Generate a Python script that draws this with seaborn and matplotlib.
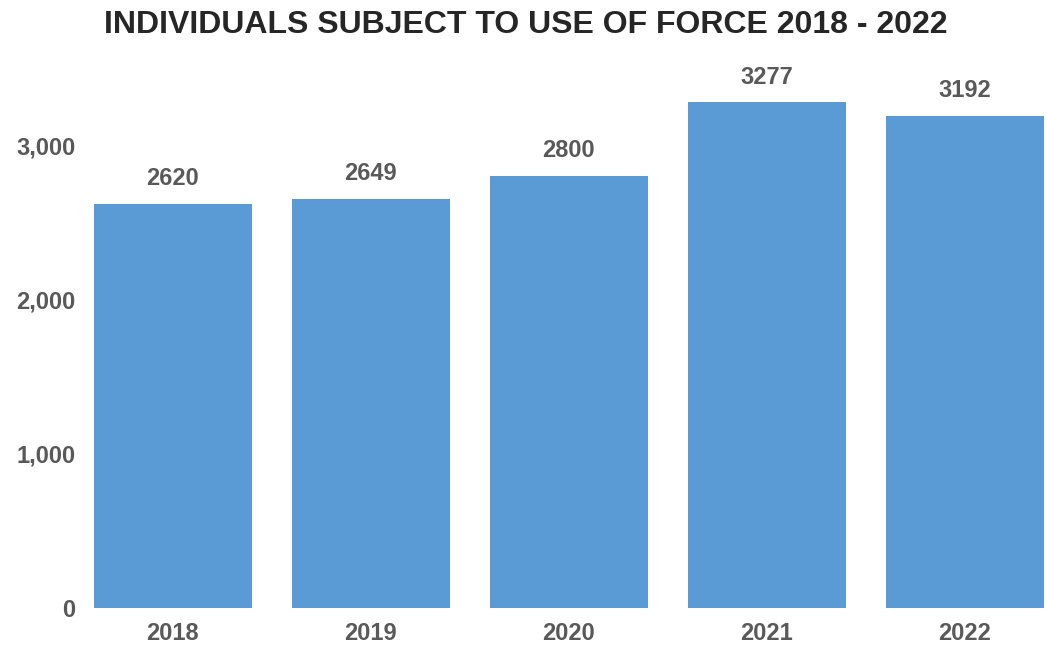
import pandas as pd
import matplotlib.pyplot as plt
import seaborn as sns
from matplotlib.ticker import FuncFormatter

years = ["2018", "2019", "2020", "2021", "2022"]
counts = [2620, 2649, 2800, 3277, 3192]

data = pd.DataFrame({"Year": years, "Count": counts})

sns.set_style("white")
plt.rcParams["font.family"] = ["Liberation Sans", "DejaVu Sans"]

fig = plt.figure(figsize=(10.46, 6.46), dpi=100)
ax = fig.add_axes([85 / 1046, 1 - 608 / 646, 1 - 85 / 1046, (608 - 68) / 646])

sns.barplot(x="Year", y="Count", data=data, color="#5B9BD5", saturation=1,
            width=0.8, edgecolor="none", linewidth=0, ax=ax)

for i, v in enumerate(counts):
    ax.text(i, v + 90, str(v), ha="center", va="bottom", fontsize=17,
            fontweight="bold", color="#595959")

ax.set_ylim(0, 3500)
ax.set_xlim(-0.444, 4.41)
ax.set_yticks([0, 1000, 2000, 3000])
ax.yaxis.set_major_formatter(FuncFormatter(lambda x, p: f"{int(x):,}"))
ax.tick_params(axis="both", length=0, labelsize=17, labelcolor="#595959")
ax.tick_params(axis="y", pad=7)
ax.tick_params(axis="x", pad=10)
for lbl in ax.get_xticklabels() + ax.get_yticklabels():
    lbl.set_fontweight("bold")
ax.set_xlabel("")
ax.set_ylabel("")
sns.despine(ax=ax, left=True, bottom=True)

fig.suptitle("INDIVIDUALS SUBJECT TO USE OF FORCE 2018 - 2022", x=0.503, y=0.985,
             fontsize=23, fontweight="bold", color="#262626")

fig.savefig("out.png", dpi=100)
